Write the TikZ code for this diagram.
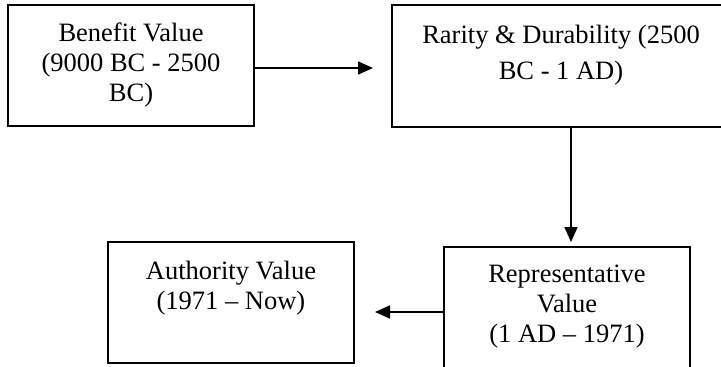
\documentclass[tikz,border=0pt]{standalone}
\usepackage{fontspec}
\setmainfont{Liberation Serif}
\usetikzlibrary{arrows.meta}
\begin{document}
\begin{tikzpicture}[x=1pt,y=-1pt,
  box/.style={draw=black, line width=1.6pt, inner sep=0pt},
  txt/.style={align=center, inner sep=0pt, anchor=base, font=\fontsize{26.5}{30}\selectfont},
  arr/.style={line width=1.6pt, -{Triangle[length=15pt,width=13pt]}}]
\useasboundingbox (0,0) rectangle (721,367);
\clip (0,0) rectangle (721,367);
\fill[white] (0,0) rectangle (721,367);
% boxes
\node[box, minimum width=246pt, minimum height=121pt] (b1) at (131,65.5) {};
\node[box, minimum width=338pt, minimum height=122pt] (b2) at (561,66) {};
\node[box, minimum width=246pt, minimum height=133pt] (b3) at (567,313.5) {};
\node[box, minimum width=246pt, minimum height=121pt] (b4) at (231,302.5) {};
% texts (anchored at the baseline of their last line)
\node[txt] (t1) at (131,101.5) {Benefit Value\\(9000 BC - 2500\\BC)};
\node[txt, font=\fontsize{26.5}{36}\selectfont] (t2) at (561,79) {Rarity \& Durability (2500\\BC - 1 AD)};
\node[txt] (t3) at (567,342) {Representative\\Value\\(1 AD -- 1971)};
\node[txt] (t4) at (231,309) {Authority Value\\(1971 -- Now)};
% connectors
\coordinate (a1) at (373,68);
\coordinate (a2) at (571,242);
\coordinate (a3) at (375,312);
\draw[arr] (b1.east |- a1) -- (a1);
\draw[arr] (b2.south -| a2) -- (a2);
\draw[arr] (b3.west |- a3) -- (a3);
\end{tikzpicture}
\end{document}
